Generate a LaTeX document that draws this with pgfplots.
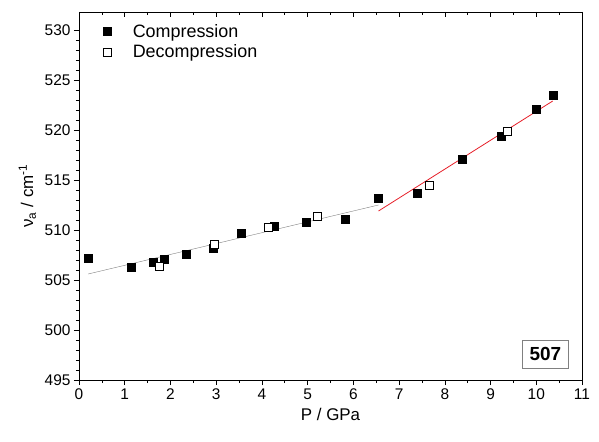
\documentclass[border=0pt]{standalone}
\usepackage{fontspec}
\setmainfont{Liberation Sans}
\usepackage{pgfplots}
\pgfplotsset{compat=1.18}

\begin{document}
\begin{tikzpicture}[x=1bp,y=1bp]
\definecolor{fitgray}{RGB}{128,128,128}
\definecolor{fitred}{RGB}{230,30,40}
\pgfplotsset{
  every axis/.append style={
    scale only axis, width=503bp, height=368bp,
    xmin=0, xmax=11, ymin=495, ymax=531.8,
    xtick={0,1,...,11}, ytick={495,500,...,530},
    minor x tick num=1, minor y tick num=4,
    major tick length=5bp, minor tick length=3bp,
    tick style={black, semithick},
    /pgf/number format/assume math mode=true,
    tick label style={font=\fontsize{15.5}{18}\selectfont},
    label style={font=\fontsize{17}{20}\selectfont},
  }
}
\begin{axis}[
  axis line style={semithick},
  tick align=outside,
  xtick pos=bottom, ytick pos=left,
  xlabel={P / GPa},
  ylabel={ν\textsubscript{a} / cm\textsuperscript{-1}},
  xlabel style={yshift=-2bp},
  ylabel style={yshift=2bp},
  legend style={draw=none, fill=none, at={(axis cs:0.45,531.0)}, anchor=north west,
    font=\fontsize{18}{20}\selectfont, row sep=2bp},
  legend cell align=left,
]
\addplot[only marks, mark=square*, mark size=4bp, mark options={fill=black, draw=black}] coordinates {
(0.20,507.2) (1.15,506.3) (1.62,506.8) (1.86,507.1) (2.35,507.6) (2.94,508.2)
(3.54,509.7) (4.26,510.4) (4.97,510.8) (5.82,511.1) (6.55,513.2) (7.40,513.7)
(8.38,517.1) (9.24,519.4) (9.99,522.1) (10.36,523.5)
};
\addlegendentry{\hspace*{20bp}Compression}
\addplot[only marks, mark=square*, mark size=4bp, mark options={fill=white, draw=black, thin}] coordinates {
(1.75,506.4) (2.95,508.6) (4.13,510.3) (5.22,511.4) (7.65,514.5) (9.37,519.9)
};
\addlegendentry{\hspace*{20bp}Decompression}
\addplot[fitgray, thin, forget plot] coordinates {(0.20,505.6) (6.55,512.5)};
\addplot[fitred, thick, forget plot] coordinates {(6.55,511.9) (10.36,522.9)};
\node[draw=fitgray, thin, inner xsep=7bp, inner ysep=7bp, font=\fontsize{19}{20}\selectfont\bfseries, anchor=south east]
  at (axis cs:10.7,496.2) {507};
\end{axis}
\begin{axis}[
  axis x line*=top, axis y line=none,
  axis line style={semithick},
  tick align=inside, xticklabels={},
]
\addplot[draw=none] coordinates {(0,500)};
\end{axis}
\path ([xshift=-79bp,yshift=-62bp]current axis.south west) rectangle ([xshift=17bp,yshift=12bp]current axis.north east);
\end{tikzpicture}
\end{document}
